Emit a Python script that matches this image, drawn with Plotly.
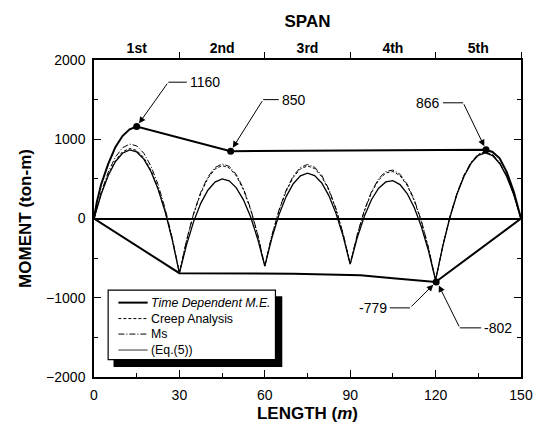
import plotly.graph_objects as go

# ---------------- data ----------------
length = [0, 2.5, 5, 7.5, 10, 12.5, 15, 17.5, 20, 22.5, 25, 27.5,
          30, 32.5, 35, 37.5, 40, 42.5, 45, 47.5, 50, 52.5, 55, 57.5,
          60, 62.5, 65, 67.5, 70, 72.5, 75, 77.5, 80, 82.5, 85, 87.5,
          90, 92.5, 95, 97.5, 100, 102.5, 105, 107.5, 110, 112.5, 115, 117.5,
          120, 122.5, 125, 127.5, 130, 132.5, 135, 137.5, 140, 142.5, 145, 147.5,
          150]

eq5 = [0, 305, 543, 716, 823, 865, 840, 750, 593, 371, 83, -270,
       -690, -333, -39, 191, 357, 460, 499, 475, 387, 236, 21, -258,
       -600, -243, 49, 276, 439, 538, 573, 542, 448, 289, 65, -223,
       -575, -239, 32, 240, 383, 462, 477, 428, 315, 138, -104, -409,
       -779, -352, 9, 305, 534, 698, 796, 828, 794, 694, 528, 297,
       0]

ms = [0, 328, 586, 774, 892, 939, 917, 824, 662, 429, 126, -247,
      -690, -275, 66, 332, 525, 643, 688, 658, 555, 377, 126, -200,
      -600, -210, 109, 358, 536, 644, 682, 648, 545, 371, 126, -189,
      -575, -198, 107, 341, 503, 593, 612, 559, 435, 239, -29, -368,
      -779, -347, 19, 317, 549, 714, 813, 844, 809, 707, 538, 302,
      0]

creep = [0, 311, 554, 731, 841, 884, 860, 769, 611, 386, 95, -264,
         -690, -281, 55, 317, 507, 624, 668, 639, 537, 362, 115, -206,
         -600, -216, 99, 344, 519, 626, 663, 630, 528, 356, 115, -195,
         -575, -204, 97, 327, 486, 575, 593, 541, 418, 225, -39, -374,
         -779, -349, 15, 312, 543, 707, 806, 837, 803, 702, 534, 300,
         0]

# Time dependent moment envelope (upper branch then lower branch back)
td_x = [0, 1, 2.5, 5, 7.5, 10, 12.5, 15, 48, 90, 137.7, 140, 142.5, 145, 147.5, 150,
        120, 105, 93.6, 70, 60, 30, 0]
td_m = [0, 210, 430, 690, 900, 1040, 1125, 1160, 850, 855, 866, 840, 760, 585, 335, 0,
        -802, -755, -717, -696, -693, -690, 0]

# marked extreme values
mark_x = [15, 48, 137.7, 120.2]
mark_m = [1160, 850, 866, -800]

span_pos = [15, 45, 75, 105, 135]
span_labels = ["1st", "2nd", "3rd", "4th", "5th"]

x_ticks = [0, 30, 60, 90, 120, 150]
y_ticks = [-2000, -1000, 0, 1000, 2000]

# callouts: text, value point, bend point, end of horizontal leader, text anchor
callouts = [
    ("1160", 15, 1160, 26.1, 1720, 32.6, "left"),
    ("850", 48, 850, 59.4, 1500, 64.9, "left"),
    ("866", 137.7, 866, 129.7, 1460, 122.6, "right"),
    ("-779", 120.2, -800, 111.0, -1128, 103.9, "right"),
    ("-802", 120.5, -800, 128.5, -1380, 136.0, "left"),
]

series_names = ["<i>Time Dependent M.E.</i>", "Creep Analysis", "Ms", "(Eq.(5))"]
series_styles = [dict(color="black", width=2),
                 dict(color="black", width=1, dash="3px,2px"),
                 dict(color="black", width=1, dash="6px,2px,1px,2px"),
                 dict(color="#333333", width=1)]

FONT = "Liberation Sans, Arial, Helvetica, sans-serif"

fig = go.Figure()

fig.add_trace(go.Scatter(x=td_x, y=td_m, mode="lines", name=series_names[0],
                         line=series_styles[0]))
fig.add_trace(go.Scatter(x=length, y=creep, mode="lines", name=series_names[1],
                         line=series_styles[1]))
fig.add_trace(go.Scatter(x=length, y=ms, mode="lines", name=series_names[2],
                         line=series_styles[2]))
fig.add_trace(go.Scatter(x=length, y=eq5, mode="lines", name=series_names[3],
                         line=dict(color="black", width=1.3)))
fig.add_trace(go.Scatter(x=mark_x, y=mark_m, mode="markers", showlegend=False,
                         marker=dict(color="black", size=7), xaxis="x2"))

shapes = []
annotations = []
for txt, px, pm, bx, bm, hx, anc in callouts:
    shapes.append(dict(type="line", xref="x", yref="y", x0=bx, y0=bm, x1=hx, y1=bm,
                       line=dict(color="black", width=1)))
    annotations.append(dict(x=px, y=pm, ax=bx, ay=bm, xref="x", yref="y",
                            axref="x", ayref="y", text="", showarrow=True,
                            arrowhead=2, arrowsize=1.3, arrowwidth=1, arrowcolor="black",
                            standoff=4))
    annotations.append(dict(x=hx + (0.4 if anc == "left" else -0.4), y=bm, xref="x", yref="y",
                            text=txt, showarrow=False, xanchor=anc, yanchor="middle",
                            font=dict(family=FONT, size=14, color="black")))

# hand-drawn legend box (pixel layout converted to paper coordinates)
L, R, T, B = 94.0, 531.7, 59.5, 377.0


def px_x(p):
    return (p - L) / (R - L)


def px_y(p):
    return (B - p) / (B - T)


shapes.append(dict(type="rect", xref="paper", yref="paper", layer="above",
                   x0=px_x(114), x1=px_x(287), y0=px_y(367), y1=px_y(296),
                   fillcolor="black", line=dict(width=0)))
shapes.append(dict(type="rect", xref="paper", yref="paper", layer="above",
                   x0=px_x(108.5), x1=px_x(280), y0=px_y(359.5), y1=px_y(290),
                   fillcolor="white", line=dict(color="black", width=1.2)))
rows = [302.5, 318.5, 334, 350]
for name, style, ry in zip(series_names, series_styles, rows):
    shapes.append(dict(type="line", xref="paper", yref="paper", layer="above",
                       x0=px_x(119), x1=px_x(149), y0=px_y(ry), y1=px_y(ry),
                       line=style))
    annotations.append(dict(x=px_x(150.5), y=px_y(ry), xref="paper", yref="paper",
                            text=name, showarrow=False, xanchor="left", yanchor="middle",
                            font=dict(family=FONT, size=12.3, color="black")))

fig.update_layout(
    width=545, height=434,
    margin=dict(l=94, r=13, t=60, b=57),
    paper_bgcolor="white", plot_bgcolor="white",
    font=dict(family=FONT, size=14, color="black"),
    showlegend=False,
    xaxis=dict(range=[0, 150], tickvals=x_ticks, ticks="inside", ticklen=7, tickwidth=1,
               tickcolor="black", showline=True, linecolor="black", linewidth=1.5,
               showgrid=False, zeroline=False,
               minor=dict(tickvals=[15, 45, 75, 105, 135], ticks="inside", ticklen=4,
                          tickcolor="black"),
               tickfont=dict(size=14), ticklabelstandoff=4,
               title=dict(text="<b>LENGTH (<i>m</i>)</b>", font=dict(size=17), standoff=6)),
    xaxis2=dict(range=[0, 150], overlaying="x", side="top", tickvals=span_pos,
                ticktext=["<b>%s</b>" % s for s in span_labels], ticks="",
                showline=True, linecolor="black", linewidth=1.5, showgrid=False,
                zeroline=False,
                minor=dict(tickvals=[30, 60, 90, 120, 150], ticks="outside", ticklen=6,
                           tickcolor="black"),
                tickfont=dict(size=14),
                title=dict(text="<b>SPAN</b>", font=dict(size=17), standoff=8)),
    yaxis=dict(range=[-2000, 2000], tickvals=y_ticks, ticks="inside", ticklen=7,
               tickcolor="black", showline=True, linecolor="black", linewidth=1.5,
               mirror="ticks", showgrid=False, zeroline=True, zerolinecolor="black",
               zerolinewidth=1.5,
               minor=dict(tickvals=[-1500, -500, 500, 1500], ticks="inside", ticklen=4,
                          tickcolor="black"),
               tickfont=dict(size=14), ticklabelstandoff=4,
               title=dict(text="<b>MOMENT (ton-m)</b>", font=dict(size=17), standoff=10)),
    shapes=shapes,
    annotations=annotations,
)

fig.write_html("out.html")
